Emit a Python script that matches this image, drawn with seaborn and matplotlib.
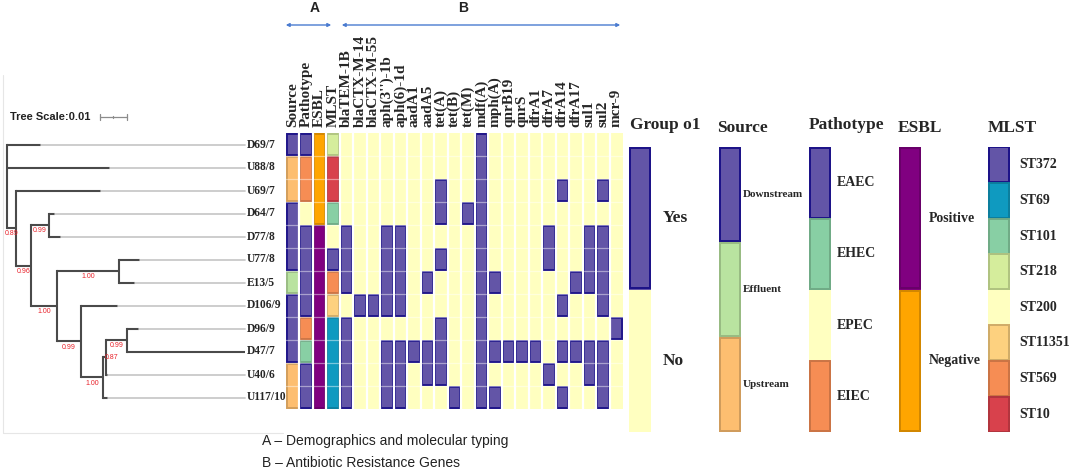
from __future__ import annotations

import matplotlib

matplotlib.use("Agg")

import matplotlib.pyplot as plt
import numpy as np
import pandas as pd
import seaborn as sns
from matplotlib.colors import ListedColormap, to_rgb
from matplotlib.lines import Line2D
from matplotlib.patches import FancyArrowPatch, Rectangle

FIG_W, FIG_H = 1084, 468
SERIF = "Liberation Serif"
SANS = "Liberation Sans"
NAVY = "#1C1288"

# ---- data -------------------------------------------------------------
ISOLATES = ["D69/7", "U88/8", "U69/7", "D64/7", "D77/8", "U77/8",
            "E13/5", "D106/9", "D96/9", "D47/7", "U40/6", "U117/10"]

SOURCE = ["Downstream", "Upstream", "Upstream", "Downstream", "Downstream", "Downstream",
          "Effluent", "Downstream", "Downstream", "Downstream", "Upstream", "Upstream"]
PATHOTYPE = ["EAEC", "EIEC", "EIEC", "EPEC", "EAEC", "EAEC",
             "EAEC", "EAEC", "EIEC", "EHEC", "EAEC", "EAEC"]
ESBL = ["Negative", "Negative", "Negative", "Negative", "Positive", "Positive",
        "Positive", "Positive", "Positive", "Positive", "Positive", "Positive"]
MLST = ["ST218", "ST10", "ST10", "ST101", "ST200", "ST372",
        "ST569", "ST11351", "ST69", "ST69", "ST69", "ST69"]

GROUP_A = ["Source", "Pathotype", "ESBL", "MLST"]
GENES = ["blaTEM-1B", "blaCTX-M-14", "blaCTX-M-55", "aph(3'')-1b", "aph(6)-1d", "aadA1",
         "aadA5", "tet(A)", "tet(B)", "tet(M)", "mdf(A)", "mph(A)", "qnrB19", "qnrS",
         "dfrA1", "dfrA7", "dfrA14", "dfrA17", "sul1", "sul2", "mcr-9"]

GENE_PRESENCE = [
    [0, 0, 0, 0, 0, 0, 0, 0, 0, 0, 1, 0, 0, 0, 0, 0, 0, 0, 0, 0, 0],
    [0, 0, 0, 0, 0, 0, 0, 0, 0, 0, 1, 0, 0, 0, 0, 0, 0, 0, 0, 0, 0],
    [0, 0, 0, 0, 0, 0, 0, 1, 0, 0, 1, 0, 0, 0, 0, 0, 1, 0, 0, 1, 0],
    [0, 0, 0, 0, 0, 0, 0, 1, 0, 1, 1, 0, 0, 0, 0, 0, 0, 0, 0, 0, 0],
    [1, 0, 0, 1, 1, 0, 0, 0, 0, 0, 1, 0, 0, 0, 0, 1, 0, 0, 1, 1, 0],
    [1, 0, 0, 1, 1, 0, 0, 1, 0, 0, 1, 0, 0, 0, 0, 1, 0, 0, 1, 1, 0],
    [1, 0, 0, 1, 1, 0, 1, 0, 0, 0, 1, 1, 0, 0, 0, 0, 0, 1, 1, 1, 0],
    [0, 1, 1, 1, 1, 0, 0, 0, 0, 0, 1, 0, 0, 0, 0, 0, 1, 0, 0, 1, 0],
    [1, 0, 0, 0, 0, 0, 0, 1, 0, 0, 1, 0, 0, 0, 0, 0, 0, 0, 0, 0, 1],
    [1, 0, 0, 1, 1, 1, 1, 1, 0, 0, 1, 1, 1, 1, 1, 0, 1, 1, 1, 1, 0],
    [1, 0, 0, 1, 1, 0, 1, 1, 0, 0, 1, 0, 0, 0, 0, 1, 0, 0, 1, 1, 0],
    [1, 0, 0, 1, 1, 0, 0, 0, 1, 0, 1, 1, 0, 0, 0, 0, 1, 0, 0, 1, 0],
]

# tree: child -> parent with branch length (substitutions/site)
TREE_CHILD = ["D69/7", "U88/8", "n1", "U69/7", "n2", "n3", "D64/7", "D77/8", "n4", "n5",
              "U77/8", "E13/5", "n6", "D106/9", "n7", "n8", "U117/10", "n9", "U40/6",
              "D96/9", "D47/7"]
TREE_PARENT = ["root", "root", "root", "n1", "n1", "n2", "n3", "n3", "n2", "n4",
               "n5", "n5", "n4", "n6", "n6", "n7", "n7", "n8", "n8", "n9", "n9"]
BRANCH_LENGTH = [0.0126, 0.0381, 0.0033, 0.0315, 0.0056, 0.0067, 0.0022, 0.0044, 0.0096, 0.0230,
                 0.0078, 0.0059, 0.0089, 0.0137, 0.0081, 0.0011, 0.0019, 0.0078, 0.0007,
                 0.0044, 0.0437]
SUPPORT_NODES = ["n1", "n2", "n3", "n4", "n5", "n6", "n7", "n8", "n9"]
SUPPORT_VALUES = [0.89, 0.96, 0.99, 1.00, 1.00, 0.99, 1.00, 0.87, 0.99]

GROUP_LEVELS = ["Yes", "No"]
SOURCE_LEVELS = ["Downstream", "Effluent", "Upstream"]
PATHOTYPE_LEVELS = ["EAEC", "EHEC", "EPEC", "EIEC"]
ESBL_LEVELS = ["Positive", "Negative"]
MLST_LEVELS = ["ST372", "ST69", "ST101", "ST218", "ST200", "ST11351", "ST569", "ST10"]

CATEGORY_COLORS = {
    "absent": "#FFFFC0", "present": "#6355A7",
    "Downstream": "#6355A7", "Effluent": "#B9E3A0", "Upstream": "#FDBE70",
    "EAEC": "#6355A7", "EHEC": "#88CFA4", "EPEC": "#FFFFC0", "EIEC": "#F68D54",
    "Positive": "#800080", "Negative": "#FFA500",
    "ST372": "#6355A7", "ST69": "#0F9AC0", "ST101": "#88CFA4", "ST218": "#D5ED9C",
    "ST200": "#FFFFC0", "ST11351": "#FDD17F", "ST569": "#F68D54", "ST10": "#D8414C",
    "Yes": "#6355A7", "No": "#FFFFC0",
}
CATEGORIES = list(CATEGORY_COLORS)
CMAP = ListedColormap([CATEGORY_COLORS[c] for c in CATEGORIES])


def box(x0, y0, x1, y1):
    return [x0 / FIG_W, 1 - y1 / FIG_H, (x1 - x0) / FIG_W, (y1 - y0) / FIG_H]


def fx(x):
    return x / FIG_W


def fy(y):
    return 1 - y / FIG_H


def edge_for(label):
    fill = CATEGORY_COLORS[label]
    if fill == "#FFFFC0":
        return None
    if fill == "#6355A7":
        return NAVY
    return tuple(v * 0.82 for v in to_rgb(fill))


def draw_runs(ax, labels, inset_x=0.07, inset_y=0.05, lw=1.3):
    labels = np.asarray(labels)
    nrows, ncols = labels.shape
    for c in range(ncols):
        r = 0
        while r < nrows:
            start = r
            while r + 1 < nrows and labels[r + 1, c] == labels[start, c]:
                r += 1
            edge = edge_for(labels[start, c])
            if edge is not None:
                ax.add_patch(Rectangle((c + inset_x, start + inset_y), 1 - 2 * inset_x,
                                       r - start + 1 - 2 * inset_y, fill=False,
                                       edgecolor=edge, linewidth=lw))
            r += 1


def categorical_heatmap(ax, labels, **kw):
    codes = pd.DataFrame(labels).apply(lambda col: col.map(CATEGORIES.index))
    sns.heatmap(codes, ax=ax, cmap=CMAP, vmin=-0.5, vmax=len(CATEGORIES) - 0.5,
                cbar=False, linewidths=0, **kw)


def tree_layout():
    depth = {"root": 0.0}
    for child, parent, length in zip(TREE_CHILD, TREE_PARENT, BRANCH_LENGTH):
        depth[child] = depth[parent] + length
    children = {}
    for child, parent in zip(TREE_CHILD, TREE_PARENT):
        children.setdefault(parent, []).append(child)
    ypos = {name: i + 0.5 for i, name in enumerate(ISOLATES)}

    def resolve(node):
        if node in ypos:
            return ypos[node]
        ys = [resolve(k) for k in children[node]]
        ypos[node] = (min(ys) + max(ys)) / 2
        return ypos[node]

    resolve("root")
    return depth, children, ypos


def draw_tree(fig):
    unit = 0.01 / 27
    ax = fig.add_axes(box(0, 133, 286, 409))
    ax.set_xlim(-7 * unit, 279 * unit)
    ax.set_ylim(len(ISOLATES), 0)
    ax.axis("off")

    depth, children, ypos = tree_layout()
    tip_end = max(depth[n] for n in ISOLATES)
    dark, light = "#4A4A4A", "#C9C9C9"

    for child, parent in zip(TREE_CHILD, TREE_PARENT):
        ax.plot([depth[parent], depth[child]], [ypos[child]] * 2, color=dark, lw=1.5,
                solid_capstyle="butt")
    for node, kids in children.items():
        ys = [ypos[k] for k in kids]
        ax.plot([depth[node]] * 2, [min(ys), max(ys)], color=dark, lw=1.5,
                solid_capstyle="projecting")
    for name in ISOLATES:
        if tip_end - depth[name] > 1e-6:
            ax.plot([depth[name], tip_end], [ypos[name]] * 2, color=light, lw=1.3)
        ax.text(tip_end + 2 * unit, ypos[name], name, va="center", ha="left",
                fontsize=8.3, fontweight="bold", family=SERIF)

    parent_of = dict(zip(TREE_CHILD, TREE_PARENT))
    for node, value in zip(SUPPORT_NODES, SUPPORT_VALUES):
        start, end = depth[parent_of[node]], depth[node]
        if end - start < 6 * unit:
            # short branch: put the value beside the node
            x, y = start + 9 * unit, ypos[node]
        else:
            x, y = (start + end) / 2, ypos[node] + 0.25
        ax.text(x, y, f"{value:.2f}", color="#E8222A", fontsize=5,
                ha="center", va="center", family=SANS)

    # scale bar (0.01)
    x0, y0 = 93 * unit, -0.7
    ax.plot([x0, x0 + 0.01], [y0, y0], color="#8C8C8C", lw=0.9, clip_on=False)
    for xt, h in [(x0, 0.12), (x0 + 0.005, 0.06), (x0 + 0.01, 0.12)]:
        ax.plot([xt, xt], [y0 - h, y0 + h], color="#8C8C8C", lw=0.9, clip_on=False)
    fig.text(fx(10), fy(117), "Tree Scale:0.01", fontsize=8, fontweight="bold",
             family=SANS, va="center", ha="left", color="#222222")


def draw_matrix(fig):
    rows = [[SOURCE[i], PATHOTYPE[i], ESBL[i], MLST[i]]
            + ["present" if p else "absent" for p in GENE_PRESENCE[i]]
            for i in range(len(ISOLATES))]
    columns = GROUP_A + GENES
    labels = pd.DataFrame(rows, index=ISOLATES, columns=columns)

    ax = fig.add_axes(box(286, 133, 623, 409))
    categorical_heatmap(ax, labels, xticklabels=columns, yticklabels=False)
    for c in range(1, len(columns)):
        ax.axvline(c, color="white", lw=1.6)
    for r in range(1, len(ISOLATES)):
        ax.axhline(r, color="white", lw=0.9, alpha=0.45)
    draw_runs(ax, labels.values)

    ax.xaxis.set_ticks_position("top")
    ax.tick_params(axis="x", length=0, pad=4, top=True, bottom=False,
                   labeltop=True, labelbottom=False)
    ax.set_xticklabels(columns, rotation=90, ha="center", va="bottom",
                       fontsize=11, fontweight="bold", family=SERIF)
    ax.set_xlabel("")
    ax.set_ylabel("")

    # section headers
    arrow_kw = dict(arrowstyle="<|-|>", mutation_scale=5, color="#4A7BD0", lw=1,
                    transform=fig.transFigure)
    fig.patches.append(FancyArrowPatch((fx(283), fy(25)), (fx(334), fy(25)), **arrow_kw))
    fig.patches.append(FancyArrowPatch((fx(339), fy(25)), (fx(623), fy(25)), **arrow_kw))
    fig.text(fx(315), fy(8), "A", fontsize=10, fontweight="bold", family=SANS,
             ha="center", va="center", color="#222222")
    fig.text(fx(463), fy(8), "B", fontsize=10, fontweight="bold", family=SANS,
             ha="center", va="center", color="#222222")

    fig.text(fx(262), fy(441), "A \u2013 Demographics and molecular typing", fontsize=10,
             family=SANS, ha="left", va="center", color="#222222")
    fig.text(fx(262), fy(463), "B \u2013 Antibiotic Resistance Genes", fontsize=10,
             family=SANS, ha="left", va="center", color="#222222")


def draw_legend(fig, x0, levels, title, title_x, title_y, label_gap, label_size):
    ax = fig.add_axes(box(x0, 147, x0 + 22, 432))
    labels = pd.DataFrame({title: levels})
    categorical_heatmap(ax, labels, xticklabels=False, yticklabels=False)
    draw_runs(ax, labels.values, inset_x=0.04, inset_y=0.01, lw=1.4)
    ax.set_xlabel("")
    ax.set_ylabel("")
    for i, level in enumerate(levels):
        ax.text(1 + label_gap / 22, i + 0.5, level, fontsize=label_size, fontweight="bold",
                family=SERIF, va="center", ha="left", clip_on=False)
    fig.text(fx(title_x), fy(title_y), title, fontsize=12.5, fontweight="bold",
             family=SERIF, ha="left", va="center")


def main() -> None:
    sns.set_theme(style="white")
    plt.rcParams["font.family"] = [SERIF, "DejaVu Sans"]

    fig = plt.figure(figsize=(FIG_W / 100, FIG_H / 100), dpi=100)
    # faint frame around the tree panel (left and bottom edges only)
    frame = dict(transform=fig.transFigure, color="#E6E6E6", lw=0.8)
    fig.lines.append(Line2D([fx(3), fx(3)], [fy(75), fy(433)], **frame))
    fig.lines.append(Line2D([fx(3), fx(283)], [fy(433), fy(433)], **frame))

    draw_tree(fig)
    draw_matrix(fig)

    draw_legend(fig, 629, GROUP_LEVELS, "Group o1", 630, 125, 12, 12.5)
    draw_legend(fig, 719, SOURCE_LEVELS, "Source", 717, 128, 2, 8)
    draw_legend(fig, 809, PATHOTYPE_LEVELS, "Pathotype", 809, 125, 6, 10)
    draw_legend(fig, 899, ESBL_LEVELS, "ESBL", 898, 128, 8, 10)
    draw_legend(fig, 988, MLST_LEVELS, "MLST", 988, 128, 9, 10)

    fig.savefig("out.png", dpi=100, facecolor="white")
    plt.close(fig)


if __name__ == "__main__":
    main()
